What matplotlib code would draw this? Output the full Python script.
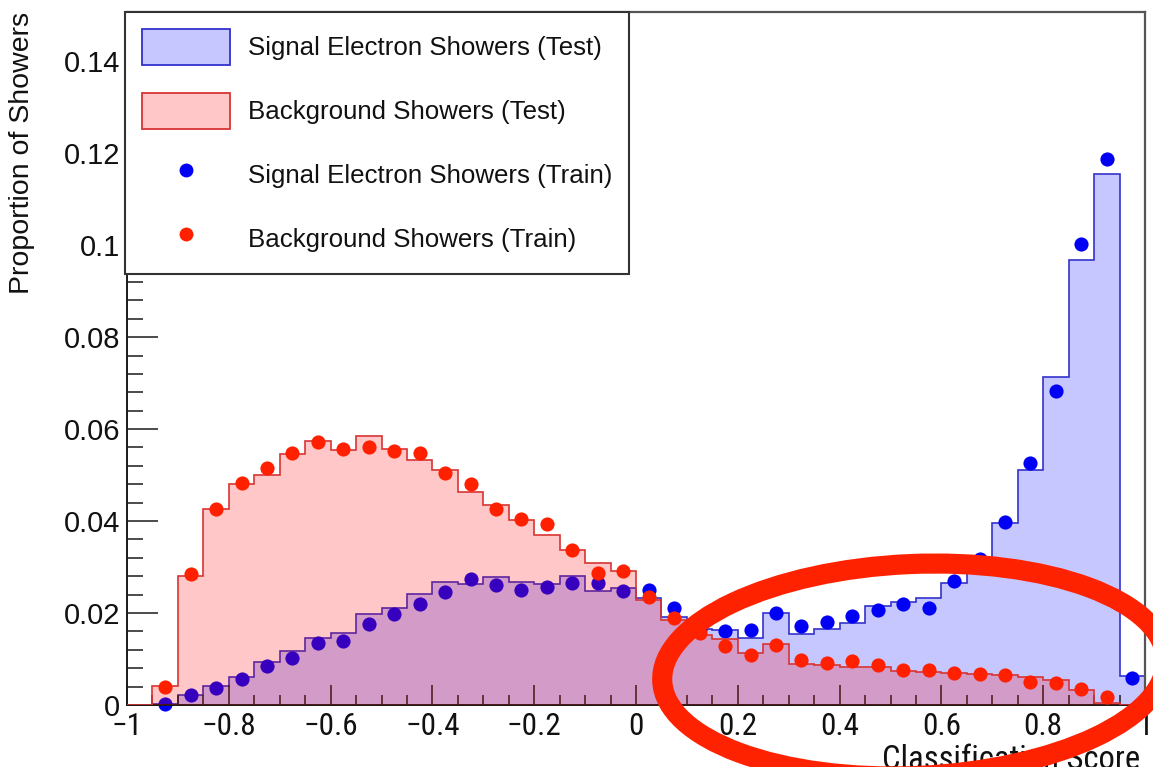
import numpy as np
import matplotlib
matplotlib.use("Agg")
import matplotlib.pyplot as plt
from matplotlib import font_manager
from matplotlib.font_manager import FontProperties
from matplotlib.patches import Patch, Ellipse
from matplotlib.lines import Line2D
from matplotlib.ticker import MultipleLocator, FuncFormatter

# ---- data: 40 bins of width 0.05 on [-1, 1] ----
bin_edges = np.linspace(-1.0, 1.0, 41)
bin_centers = 0.5 * (bin_edges[:-1] + bin_edges[1:])

signal_test = [
    0.0, 0.0003, 0.0022, 0.0042, 0.0060, 0.0093, 0.0118, 0.0145, 0.0157, 0.0198,
    0.0210, 0.0241, 0.0268, 0.0264, 0.0279, 0.0268, 0.0264, 0.0280, 0.0248, 0.0254,
    0.0232, 0.0191, 0.0165, 0.0164, 0.0145, 0.0200, 0.0154, 0.0165, 0.0179, 0.0215,
    0.0225, 0.0233, 0.0265, 0.0295, 0.0396, 0.0510, 0.0713, 0.0968, 0.1155, 0.0062,
]
background_test = [
    0.0, 0.0041, 0.0281, 0.0427, 0.0480, 0.0500, 0.0546, 0.0575, 0.0554, 0.0586,
    0.0557, 0.0533, 0.0511, 0.0464, 0.0435, 0.0402, 0.0370, 0.0337, 0.0308, 0.0292,
    0.0228, 0.0185, 0.0152, 0.0143, 0.0114, 0.0132, 0.0090, 0.0087, 0.0083, 0.0082,
    0.0075, 0.0072, 0.0070, 0.0067, 0.0065, 0.0060, 0.0054, 0.0033, 0.0005, 0.0,
]
signal_train = [
    np.nan, 0.0002, 0.0022, 0.0038, 0.0056, 0.0085, 0.0103, 0.0134, 0.0140, 0.0176,
    0.0197, 0.0220, 0.0245, 0.0273, 0.0262, 0.0251, 0.0257, 0.0266, 0.0266, 0.0248,
    0.0250, 0.0211, 0.0165, 0.0161, 0.0164, 0.0201, 0.0172, 0.0180, 0.0194, 0.0207,
    0.0219, 0.0212, 0.0270, 0.0317, 0.0399, 0.0526, 0.0683, 0.1002, 0.1187, 0.0059,
]
background_train = [
    np.nan, 0.0040, 0.0285, 0.0426, 0.0483, 0.0515, 0.0547, 0.0571, 0.0557, 0.0562,
    0.0553, 0.0547, 0.0504, 0.0480, 0.0426, 0.0404, 0.0393, 0.0336, 0.0288, 0.0291,
    0.0235, 0.0190, 0.0156, 0.0128, 0.0109, 0.0131, 0.0098, 0.0092, 0.0096, 0.0087,
    0.0076, 0.0076, 0.0069, 0.0067, 0.0065, 0.0051, 0.0047, 0.0035, 0.0018, np.nan,
]
legend_labels = [
    "Signal Electron Showers (Test)",
    "Background Showers (Test)",
    "Signal Electron Showers (Train)",
    "Background Showers (Train)",
]
x_title = "Classification Score"
y_title = "Proportion of Showers"

# ---- fonts: regular Helvetica-like text, narrow face for the x axis ----
plt.rcParams["font.family"] = ["Liberation Sans", "DejaVu Sans"]


def pick_narrow():
    fonts = font_manager.fontManager.ttflist
    names = {f.name for f in fonts}
    for fam in ("Liberation Sans Narrow", "Arial Narrow", "Roboto Condensed",
                "Open Sans Condensed", "Noto Sans Display Condensed"):
        if fam in names:
            return FontProperties(family=fam), True
    for fam in ("Noto Sans", "Open Sans", "DejaVu Sans", "Roboto"):
        for f in fonts:
            if f.name == fam and f.style == "normal" and f.weight in (400, "normal") \
                    and str(f.stretch) in ("condensed", "semi-condensed", "extra-condensed"):
                return FontProperties(fname=f.fname), True
    return FontProperties(family="Liberation Sans"), False


narrow_fp, is_narrow = pick_narrow()

blue_fill = (0.0, 0.0, 1.0, 0.22)
red_fill = (1.0, 0.0, 0.0, 0.22)
blue_line = "#3232cc"
red_line = "#d83434"
blue_pt = "#0000f5"
red_pt = "#ff2000"

W, H = 1153, 767
fig = plt.figure(figsize=(W / 100, H / 100), dpi=100)
fig.patch.set_facecolor("white")

ax_l, ax_r, ax_t, ax_b = 127, 1145, 12, 705
ax = fig.add_axes([ax_l / W, 1 - ax_b / H, (ax_r - ax_l) / W, (ax_b - ax_t) / H])

# test histograms (filled) and train points
ax.stairs(signal_test, bin_edges, fill=True, color=blue_fill, lw=0, zorder=1)
ax.stairs(signal_test, bin_edges, baseline=0, fill=False, color=blue_line, lw=1.2, zorder=1.1)
ax.plot(bin_centers, signal_train, "o", color=blue_pt, ms=10.2, mew=0, zorder=2, clip_on=False)
ax.stairs(background_test, bin_edges, fill=True, color=red_fill, lw=0, zorder=3)
ax.stairs(background_test, bin_edges, baseline=0, fill=False, color=red_line, lw=1.2, zorder=3.1)
ax.plot(bin_centers, background_train, "o", color=red_pt, ms=10.2, mew=0, zorder=4, clip_on=False)

ax.set_xlim(-1, 1)
ax.set_ylim(0, 0.1507)


def fmt(v, _pos):
    v = round(v, 6)
    if abs(v) < 1e-9:
        return "0"
    return f"{v:g}".replace("-", "\u2212")


ax.xaxis.set_major_locator(MultipleLocator(0.2))
ax.xaxis.set_minor_locator(MultipleLocator(0.05))
ax.yaxis.set_major_locator(MultipleLocator(0.02))
ax.yaxis.set_minor_locator(MultipleLocator(0.004))
ax.xaxis.set_major_formatter(FuncFormatter(fmt))
ax.yaxis.set_major_formatter(FuncFormatter(fmt))

x_size = 22.5 if is_narrow else 19.5
ax.tick_params(axis="both", which="both", direction="in", color="#1a1a1a", width=1.1,
               top=False, right=False, labelcolor="#111111")
ax.tick_params(axis="y", which="major", length=22, labelsize=21, pad=5)
ax.tick_params(axis="y", which="minor", length=11.5)
ax.tick_params(axis="x", which="major", length=14.4, pad=5)
ax.tick_params(axis="x", which="minor", length=7.2)
fig.canvas.draw()
for lab in ax.get_xticklabels():
    lab.set_fontproperties(narrow_fp)
    lab.set_fontsize(x_size)

for side in ("left", "bottom"):
    ax.spines[side].set_color("#1a1a1a")
    ax.spines[side].set_linewidth(1.4)
for side in ("top", "right"):
    ax.spines[side].set_color("#555555")
    ax.spines[side].set_linewidth(1.6)

ax.set_ylabel(y_title, fontsize=20.5, loc="top", color="#111111")
ax.yaxis.set_label_coords((35 - ax_l) / (ax_r - ax_l), 1.0)
ax.set_xlabel(x_title, loc="right", color="#111111")
ax.xaxis.label.set_fontproperties(narrow_fp)
ax.xaxis.label.set_fontsize(23.5 if is_narrow else 20.5)
ax.xaxis.set_label_coords(1 - 5 / (ax_r - ax_l), -(744 - ax_b) / (ax_b - ax_t))

handles = [
    Patch(facecolor=blue_fill, edgecolor=blue_line, lw=1.3),
    Patch(facecolor=red_fill, edgecolor=red_line, lw=1.3),
    Line2D([], [], ls="none", marker="o", color=blue_pt, ms=10, mew=0),
    Line2D([], [], ls="none", marker="o", color=red_pt, ms=10, mew=0),
]
fs = 18.6
leg = ax.legend(handles, legend_labels, loc="upper left",
                bbox_to_anchor=(125 / W, 1 - 12 / H), bbox_transform=fig.transFigure,
                borderaxespad=0, fontsize=fs, frameon=True, fancybox=False,
                framealpha=1, edgecolor="#333333", handlelength=3.4, handleheight=1.74,
                labelspacing=1.1, handletextpad=0.7, borderpad=0.66)
leg.get_frame().set_linewidth(1.5)
for t in leg.get_texts():
    t.set_color("#111111")

# hand-drawn highlight ring over the high-score region
over = fig.add_axes([0, 0, 1, 1], zorder=10)
over.set_xlim(0, W)
over.set_ylim(H, 0)
over.axis("off")
over.patch.set_alpha(0)
over.add_patch(Ellipse((914, 670), width=504, height=212, angle=-2.5,
                       fill=False, edgecolor="#ff2200", lw=14.5))

fig.savefig("out.png", dpi=100, facecolor="white")
